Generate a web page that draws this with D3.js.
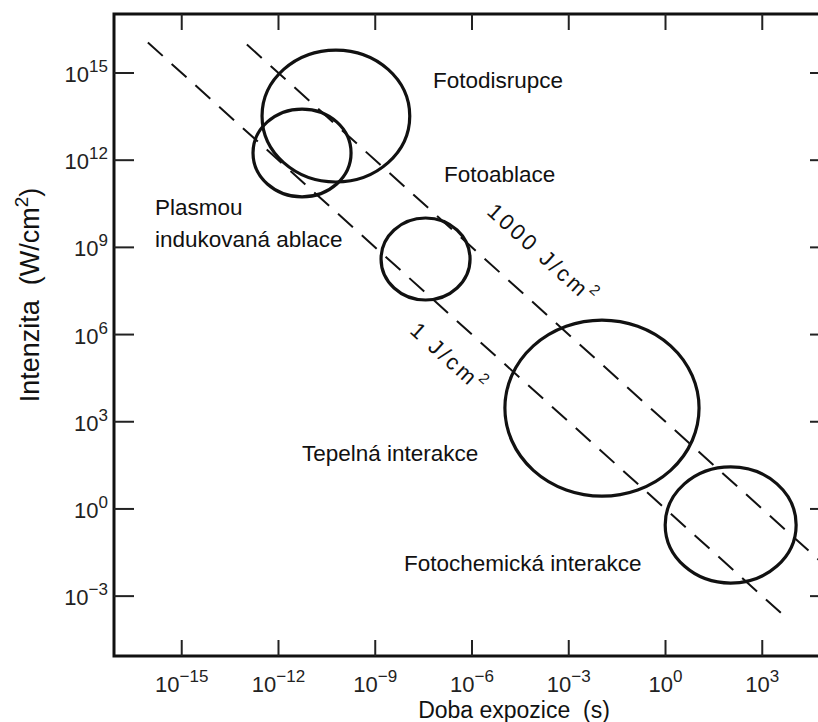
<!DOCTYPE html>
<html>
<head>
<meta charset="utf-8">
<script src="https://cdn.jsdelivr.net/npm/d3@7"></script>
<style>
  body { margin: 0; background: #fff; }
  svg { display: block; font-family: "Liberation Sans", Arial, sans-serif; }
</style>
</head>
<body>
<svg id="chart" width="818" height="722"></svg>
<script>
// tick exponents (powers of ten)
const xTickExps = [-15, -12, -9, -6, -3, 0, 3];
const yTickExps = [-3, 0, 3, 6, 9, 12, 15];

// interaction regimes: log10 centre (time, intensity) and radius in decades
const regimeLogT = [-10.22, -11.27, -7.44, -1.97, 2.02];
const regimeLogI = [13.52, 12.25, 8.60, 3.47, -0.55];
const regimeRadT = [2.29, 1.52, 1.38, 3.01, 2.03];
const regimeRadI = [2.27, 1.51, 1.41, 3.03, 2.00];

// region labels, anchored at log10 (time, intensity)
const labelTexts = ['Fotodisrupce', 'Fotoablace', 'Plasmou', 'indukovaná ablace', 'Tepelná interakce', 'Fotochemická interakce'];
const labelLogT = [-7.21, -6.87, -15.83, -15.83, -11.27, -8.11];
const labelLogI = [14.48, 11.25, 10.11, 9.00, 1.65, -2.14];

// constant fluence lines I = E / t
const fluences = [1, 1000];
const fluenceLogT = [[-16.05, 3.71], [-12.98, 5.3]];
const fluenceLabelLogT = [-6.71, -3.80];
const fluenceLabelLogI = [5.20, 8.77];

const W = 818, H = 722;
const frame = { left: 114, right: 830, top: 14, bottom: 656 };

const x = d3.scaleLog().domain([10 ** -17.1, 10 ** 5.1]).range([frame.left, frame.right]);
const y = d3.scaleLog().domain([10 ** -5.06, 10 ** 17.03]).range([frame.bottom, frame.top]);

const svg = d3.select('#chart');
const sup = n => (n < 0 ? '\u2212' + (-n) : '' + n);

// frame
svg.append('rect')
  .attr('x', frame.left).attr('y', frame.top)
  .attr('width', frame.right - frame.left).attr('height', frame.bottom - frame.top)
  .attr('fill', 'none').attr('stroke', '#111').attr('stroke-width', 3);

// ticks, inward on all sides
const xt = svg.append('g').attr('stroke', '#222').attr('stroke-width', 2);
xTickExps.forEach(e => {
  const px = x(10 ** e);
  xt.append('line').attr('x1', px).attr('x2', px).attr('y1', frame.bottom).attr('y2', frame.bottom - 16);
  xt.append('line').attr('x1', px).attr('x2', px).attr('y1', frame.top).attr('y2', frame.top + 16);
});
const yt = svg.append('g').attr('stroke', '#222').attr('stroke-width', 2);
yTickExps.forEach(e => {
  const py = y(10 ** e);
  yt.append('line').attr('x1', frame.left).attr('x2', frame.left + 20).attr('y1', py).attr('y2', py);
  yt.append('line').attr('x1', frame.right).attr('x2', frame.right - 20).attr('y1', py).attr('y2', py);
});

// tick labels
xTickExps.forEach(e => {
  const t = svg.append('text')
    .attr('x', x(10 ** e)).attr('y', 692)
    .attr('text-anchor', 'middle').attr('font-size', 22).attr('fill', '#222');
  t.append('tspan').text('10');
  t.append('tspan').attr('dy', -10).attr('font-size', 17).text(sup(e));
});
yTickExps.forEach(e => {
  const t = svg.append('text')
    .attr('x', 108).attr('y', y(10 ** e) + 9)
    .attr('text-anchor', 'end').attr('font-size', 22).attr('fill', '#222');
  t.append('tspan').text('10');
  t.append('tspan').attr('dy', -10).attr('font-size', 17).text(sup(e));
});

// axis titles
svg.append('text')
  .attr('x', 514).attr('y', 718)
  .attr('text-anchor', 'middle').attr('font-size', 23).attr('fill', '#111')
  .text('Doba expozice\u00a0\u00a0(s)');

const yl = svg.append('text')
  .attr('transform', 'translate(39,295) rotate(-90)')
  .attr('text-anchor', 'middle').attr('font-size', 27).attr('fill', '#111');
yl.append('tspan').text('Intenzita\u00a0\u00a0(W/cm');
yl.append('tspan').attr('dy', -11).attr('font-size', 19).text('2');
yl.append('tspan').attr('dy', 11).text(')');

// constant fluence lines
const line = d3.line().x(d => x(d[0])).y(d => y(d[1]));
fluences.forEach((E, i) => {
  const pts = fluenceLogT[i].map(lt => [10 ** lt, E / 10 ** lt]);
  svg.append('path')
    .attr('d', line(pts))
    .attr('fill', 'none').attr('stroke', '#111').attr('stroke-width', 2)
    .attr('stroke-dasharray', '20 12');

  const p0 = pts[0], p1 = pts[1];
  const ang = Math.atan2(y(p1[1]) - y(p0[1]), x(p1[0]) - x(p0[0])) * 180 / Math.PI;
  const lx = x(10 ** fluenceLabelLogT[i]), ly = y(10 ** fluenceLabelLogI[i]);
  const t = svg.append('text')
    .attr('transform', `translate(${lx},${ly}) rotate(${ang})`)
    .attr('text-anchor', 'middle').attr('dominant-baseline', 'central')
    .attr('font-size', 22).attr('letter-spacing', 3).attr('fill', '#111');
  t.append('tspan').text(`${E} J/cm`);
  t.append('tspan').attr('dy', -9).attr('font-size', 15).text('2');
});

// regime ellipses
regimeLogT.forEach((ct, i) => {
  const cx = x(10 ** ct), cy = y(10 ** regimeLogI[i]);
  svg.append('ellipse')
    .attr('cx', cx).attr('cy', cy)
    .attr('rx', x(10 ** (ct + regimeRadT[i])) - cx)
    .attr('ry', cy - y(10 ** (regimeLogI[i] + regimeRadI[i])))
    .attr('fill', 'none').attr('stroke', '#111').attr('stroke-width', 3.2);
});

// region labels
labelTexts.forEach((s, i) => {
  svg.append('text')
    .attr('x', x(10 ** labelLogT[i])).attr('y', y(10 ** labelLogI[i]))
    .attr('font-size', 22.5).attr('fill', '#111')
    .text(s);
});
</script>
</body>
</html>
